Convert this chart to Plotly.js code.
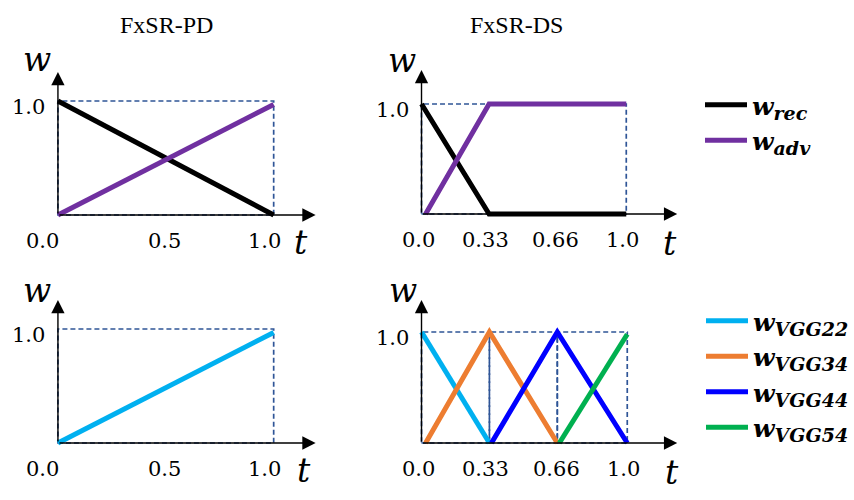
<!DOCTYPE html>
<html>
<head>
<meta charset="utf-8">
<script src="https://cdn.plot.ly/plotly-3.0.1.min.js"></script>
<style>
    html, body { margin: 0; padding: 0; background: #ffffff; }
    #chart { width: 854px; height: 500px; }
</style>
</head>
<body>
<div id="chart"></div>
<script>
// ---------- Data ---------- //
const panelTitles = ['FxSR-PD', 'FxSR-DS'];

// FxSR-PD: linear schedule over the whole run
const tPD = [0, 1];
const recPD = [1, 0];
const advPD = [0, 0.97];
const vgg22PD = [0, 0.97];
const pdTicks = [0, 0.5, 1];
const pdTickText = ['0.0', '0.5', '1.0'];

// FxSR-DS: staged schedule
const tRecDS = [0, 0.33, 1];
const recDS = [1, 0, 0];
const tAdvDS = [0.02, 0.33, 1];
const advDS = [0, 1, 1];
const tVgg22DS = [0, 0.33];
const vgg22DS = [1, 0];
const tVgg34DS = [0.02, 0.33, 0.66];
const vgg34DS = [0, 1, 0];
const tVgg44DS = [0.34, 0.66, 1];
const vgg44DS = [0, 1, 0];
const tVgg54DS = [0.67, 1];
const vgg54DS = [0, 0.98];
const dsTicks = [0, 0.33, 0.66, 1];
const dsTickText = ['0.0', '0.33', '0.66', '1.0'];

const yTickText = '1.0';

// ---------- Page geometry (pixels) ---------- //
const W = 854, H = 500;
const SERIF = 'Liberation Serif, Times New Roman, serif';
const WIDE = 'DejaVu Serif, serif';
const BOX = '#2F5597';

// x0/x1: t=0 and t=1, y0/y1: w=0 and w=1, ax/ay: arrow tips
const panels = [
    { id: '',  x0: 58,  x1: 274, y0: 215, y1: 101, ax: 316, ay: 72,  ticks: pdTicks, text: pdTickText, shift: [-15, -1, -9] },
    { id: '2', x0: 422, x1: 627, y0: 214, y1: 104, ax: 678, ay: 70,  ticks: dsTicks, text: dsTickText, shift: [-3, -4, -1, -4] },
    { id: '3', x0: 58,  x1: 274, y0: 443, y1: 329, ax: 316, ay: 300, ticks: pdTicks, text: pdTickText, shift: [-15, -1, -9] },
    { id: '4', x0: 422, x1: 628, y0: 443, y1: 332, ax: 678, ay: 300, ticks: dsTicks, text: dsTickText, shift: [-3, -4, -1, -4] },
];
const wLabel = [[37, 59], [402, 60], [37, 290], [403, 290]];
const tLabel = [[301, 242], [671, 243], [304, 470], [673, 472]];

// ---------- Traces ---------- //
const C = {
    rec: '#000000', adv: '#7030A0',
    v22: '#00B0F0', v34: '#ED7D31', v44: '#0000FF', v54: '#00B050',
};
const lbl = sub => `<b><i>w</i><sub><i><span style="font-size:19px">${sub}</span></i></sub></b>`;

function line(x, y, color, panel, name, legend) {
    const p = panels[panel];
    return {
        x: x, y: y, type: 'scatter', mode: 'lines',
        xaxis: 'x' + p.id, yaxis: 'y' + p.id,
        line: { color: color, width: 5 },
        name: name || '',
        showlegend: !!legend,
        legend: legend || 'legend',
        hoverinfo: 'skip',
    };
}

const traces = [
    line(tPD, recPD, C.rec, 0),
    line(tPD, advPD, C.adv, 0),
    line(tRecDS, recDS, C.rec, 1, lbl('rec'), 'legend'),
    line(tAdvDS, advDS, C.adv, 1, lbl('adv'), 'legend'),
    line(tPD, vgg22PD, C.v22, 2),
    line(tVgg22DS, vgg22DS, C.v22, 3, lbl('VGG22'), 'legend2'),
    line(tVgg34DS, vgg34DS, C.v34, 3, lbl('VGG34'), 'legend2'),
    line(tVgg44DS, vgg44DS, C.v44, 3, lbl('VGG44'), 'legend2'),
    line(tVgg54DS, vgg54DS, C.v54, 3, lbl('VGG54'), 'legend2'),
];

// ---------- Layout ---------- //
const legendStyle = {
    xanchor: 'left', yanchor: 'top', itemwidth: 42,
    font: { family: WIDE, size: 25, color: '#000000' },
    bgcolor: 'rgba(0,0,0,0)',
};
const layout = {
    width: W, height: H,
    margin: { t: 0, l: 0, r: 0, b: 0 },
    paper_bgcolor: '#ffffff',
    plot_bgcolor: 'rgba(0,0,0,0)',
    font: { family: SERIF, color: '#000000' },
    shapes: [],
    annotations: [],
    legend: Object.assign({ x: 700 / W, y: 1 - 82 / H }, legendStyle),
    legend2: Object.assign({ x: 702 / W, y: 1 - 298 / H }, legendStyle),
};

const hidden = { showgrid: false, zeroline: false, showticklabels: false, showline: false, ticks: '', fixedrange: true };

panels.forEach((p, i) => {
    const ux = p.x1 - p.x0, uy = p.y0 - p.y1;
    const padL = 12, padB = 10;
    layout['xaxis' + p.id] = Object.assign({}, hidden, {
        domain: [(p.x0 - padL) / W, (p.ax + 4) / W],
        range: [-padL / ux, (p.ax + 4 - p.x0) / ux],
        anchor: 'y' + p.id,
    });
    layout['yaxis' + p.id] = Object.assign({}, hidden, {
        domain: [1 - (p.y0 + padB) / H, 1 - (p.ay - 4) / H],
        range: [-padB / uy, (p.y0 - p.ay + 4) / uy],
        anchor: 'x' + p.id,
    });
    const xr = 'x' + p.id, yr = 'y' + p.id;

    // dashed boxes (DS bottom panel split at every stage)
    const edges = i === 3 ? dsTicks : [0, 1];
    for (let k = 0; k < edges.length - 1; k++) {
        layout.shapes.push({
            type: 'rect', xref: xr, yref: yr, layer: 'below',
            x0: edges[k], x1: edges[k + 1], y0: 0, y1: 1,
            line: { color: BOX, width: 1.7, dash: '5px,3px' },
        });
    }

    // axis arrows
    const arrow = { text: '', showarrow: true, arrowhead: 2, arrowsize: 1.9, arrowwidth: 1.4, arrowcolor: '#000000', standoff: 0, xref: xr, yref: yr, axref: xr, ayref: yr };
    layout.annotations.push(Object.assign({}, arrow, { x: (p.ax - p.x0) / ux, y: 0, ax: 0, ay: 0 }));
    layout.annotations.push(Object.assign({}, arrow, { x: 0, y: (p.y0 - p.ay) / uy, ax: 0, ay: 0 }));

    // tick labels
    p.ticks.forEach((v, k) => {
        layout.annotations.push({
            text: p.text[k], xref: xr, yref: yr, x: v, y: 0, showarrow: false,
            xanchor: 'center', yanchor: 'middle', xshift: p.shift[k], yshift: -26,
            font: { family: WIDE, size: 21, color: '#000000' },
        });
    });
    layout.annotations.push({
        text: yTickText, xref: xr, yref: yr, x: 0, y: 1, showarrow: false,
        xanchor: 'right', yanchor: 'middle', xshift: -11, yshift: -6,
        font: { family: WIDE, size: 21, color: '#000000' },
    });

    // axis names
    layout.annotations.push({
        text: '<i>w</i>', xref: 'paper', yref: 'paper', x: wLabel[i][0] / W, y: 1 - wLabel[i][1] / H,
        showarrow: false, xanchor: 'center', yanchor: 'middle',
        font: { family: WIDE, size: 33, color: '#000000' },
    });
    layout.annotations.push({
        text: '<i>t</i>', xref: 'paper', yref: 'paper', x: tLabel[i][0] / W, y: 1 - tLabel[i][1] / H,
        showarrow: false, xanchor: 'center', yanchor: 'middle',
        font: { family: WIDE, size: 33, color: '#000000' },
    });
});

// column titles
[[167, 25], [517, 25]].forEach((pos, i) => {
    layout.annotations.push({
        text: panelTitles[i], xref: 'paper', yref: 'paper', x: pos[0] / W, y: 1 - pos[1] / H,
        showarrow: false, xanchor: 'center', yanchor: 'middle',
        font: { family: SERIF, size: 24, color: '#000000' },
    });
});

Plotly.newPlot('chart', traces, layout, { displayModeBar: false, staticPlot: true });
</script>
</body>
</html>
